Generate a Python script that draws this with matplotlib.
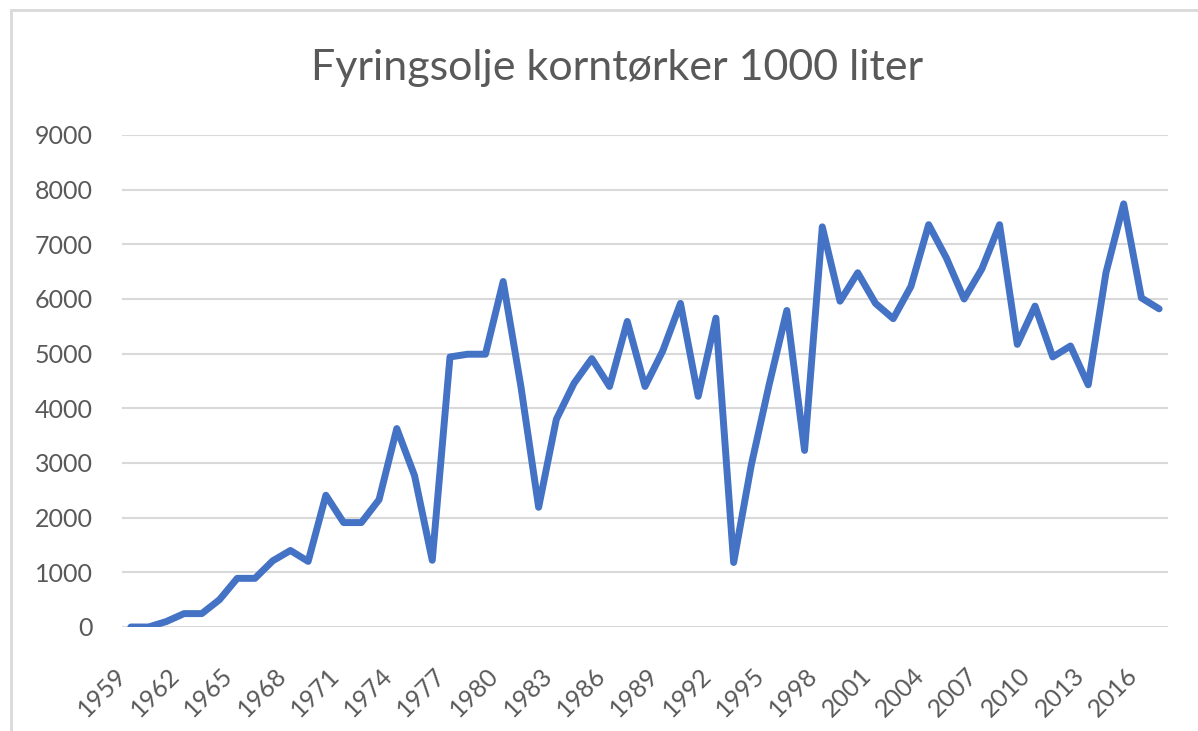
import numpy as np
import matplotlib.pyplot as plt
from matplotlib.patches import Rectangle

plt.rcParams['font.family'] = ['Lato', 'DejaVu Sans']

years = list(range(1959, 2018))
liters = [0, 0, 100, 245, 245, 500, 890, 890, 1210, 1400,
          1200, 2410, 1910, 1910, 2330, 3630, 2770, 1220, 4940, 4990,
          4990, 6320, 4400, 2190, 3800, 4460, 4910, 4400, 5590, 4400,
          5050, 5920, 4220, 5650, 1180, 2970, 4430, 5790, 3230, 7320,
          5960, 6480, 5920, 5640, 6230, 7360, 6750, 6000, 6550, 7360,
          5170, 5870, 4940, 5140, 4430, 6480, 7740, 6020, 5820]
tick_years = list(range(1959, 2017, 3))
yticks = list(range(0, 9001, 1000))

title = "Fyringsolje korntørker 1000 liter"
text_col = "#595959"

fig = plt.figure(figsize=(11.98, 7.31), dpi=100)
ax = fig.add_axes([122 / 1198, 1 - 627 / 731, (1168 - 122) / 1198, (627 - 135) / 731])

# chart border (only left and top visible in the reference)
fig.patches.append(Rectangle((11 / 1198, -0.1), 1.2, 1 - 10 / 731 + 0.1,
                             transform=fig.transFigure, fill=False,
                             edgecolor="#D9D9D9", linewidth=2))

ax.plot(years, liters, color="#4472C4", linewidth=5,
        solid_joinstyle="round", solid_capstyle="round", zorder=3)

ax.set_xlim(1958.5, 2017.5)
ax.set_ylim(0, 9000)
ax.set_yticks(yticks)
ax.set_xticks(tick_years)
ax.set_xticklabels([str(y) for y in tick_years], rotation=45, ha="right")
ax.grid(axis="y", color="#D9D9D9", linewidth=1.5)
ax.set_axisbelow(True)
for s in ax.spines.values():
    s.set_visible(False)
ax.tick_params(axis="both", length=0, colors=text_col, labelsize=18)
ax.tick_params(axis="y", pad=21)
ax.tick_params(axis="x", pad=26)

fig.text(617 / 1198, 1 - 68 / 731, title, ha="center", va="center",
         fontsize=31, color=text_col)

fig.savefig("out.png", dpi=100)
